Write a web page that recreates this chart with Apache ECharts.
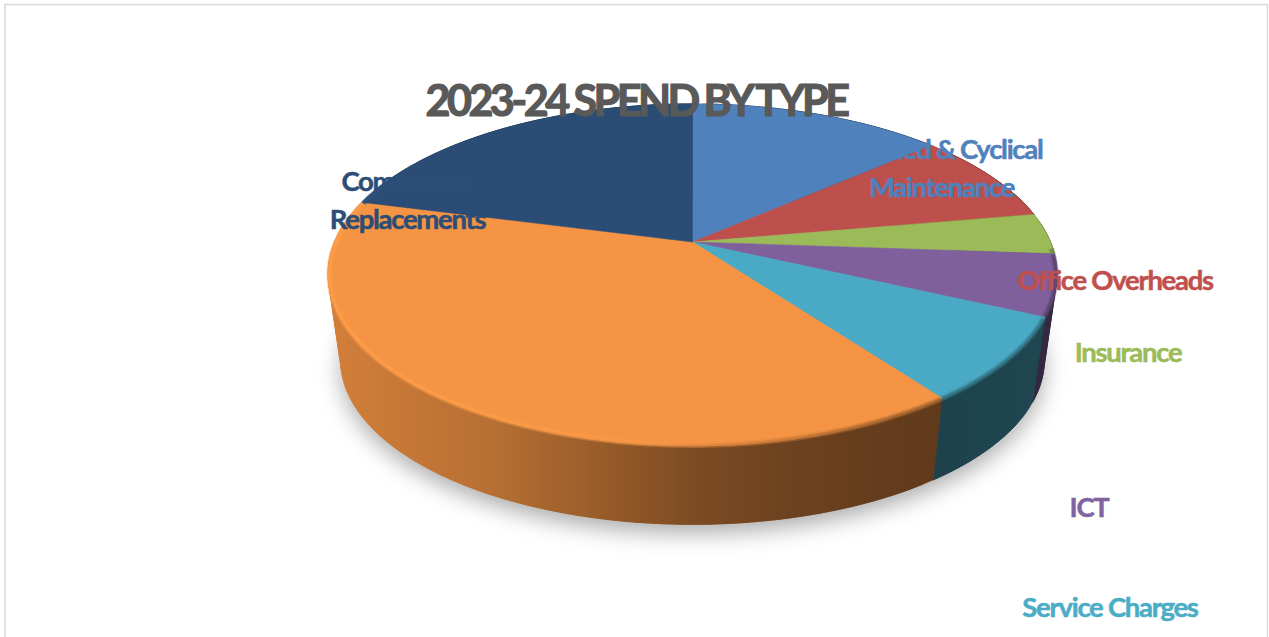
<!DOCTYPE html>
<html>
<head>
<meta charset="utf-8">
<style>
  html, body { margin: 0; padding: 0; background: #fff; }
  #chart { width: 1269px; height: 637px; overflow: hidden; }
  #chart text { letter-spacing: -0.047em; }
  #chart text[style*="43px"] { letter-spacing: -0.082em; }
</style>
<script src="https://cdn.jsdelivr.net/npm/echarts@6/dist/echarts.min.js"></script>
</head>
<body>
<div id="chart"></div>
<script>
// Spend categories, clockwise from twelve o'clock (share of total, %)
const chartTitle = '2023-24 SPEND BY TYPE';
const categories = ['Planned & Cyclical\nMaintenance', 'Office Overheads', 'Insurance', 'ICT', 'Service Charges', '', 'Component\nReplacements'];
const spend = [13.5, 8.7, 3.9, 5.8, 8.0, 39.1, 20.9];
const sliceColors = ['#4f81bd', '#bd4f4c', '#9bbb59', '#7f609c', '#4aa9c4', '#f59444', '#2b4d75'];
const labelColors = ['#4f81bd', '#c0504d', '#9bbb59', '#8064a2', '#4bacc6', '#f79646', '#2c4d75'];

// Centre of each category label on the page
const labelX = [941.5, 1115, 1128, 1089, 1110, 0, 407.5];
const labelY = [167, 279, 351, 506, 606, 0, 199];

// Perspective model of the tilted disc
const disc = { cx: 692.5, apexY: 242, radius: 358, depthScale: 164, tilt: 0.188, vanishY: 2740, baseScale: 0.965 };

const total = spend.reduce((a, b) => a + b, 0);
const cumulative = [];
spend.reduce((acc, v, i) => { cumulative[i] = acc; return acc + v; }, 0);

function rimPoint(deg, lower) {
  const t = deg * Math.PI / 180;
  const u = -Math.cos(t);
  const k = 1 / (1 - disc.tilt * u);
  let x = disc.cx + disc.radius * Math.sin(t) * k;
  let y = disc.apexY + disc.depthScale * u * k;
  if (lower) {
    x = disc.cx + disc.baseScale * (x - disc.cx);
    y = disc.vanishY + disc.baseScale * (y - disc.vanishY);
  }
  return [x, y];
}

function rimArc(from, to, lower) {
  const pts = [];
  const steps = Math.max(2, Math.ceil(to - from));
  for (let i = 0; i <= steps; i++) pts.push(rimPoint(from + (to - from) * i / steps, lower));
  return pts;
}

function sliceRange(i) {
  return [cumulative[i] / total * 360, (cumulative[i] + spend[i]) / total * 360];
}

function shade(hex, f) {
  const n = parseInt(hex.slice(1), 16);
  const c = [n >> 16, (n >> 8) & 255, n & 255].map(v => Math.min(255, Math.round(v * f)));
  return 'rgb(' + c.join(',') + ')';
}

function sweep(hex, stops) {
  const x0 = 328, x1 = 1057;
  return {
    type: 'linear', global: true, x: x0, y: 0, x2: x1, y2: 0,
    colorStops: stops.map(s => ({ offset: (s[0] - x0) / (x1 - x0), color: shade(hex, s[1]) }))
  };
}

const wallShades = [[328, 0.86], [500, 0.74], [700, 0.5], [800, 0.44], [940, 0.39], [1057, 0.42]];
const bevelShades = [[328, 1.06], [640, 1.06], [760, 0.92], [900, 0.72], [1057, 0.7]];

function renderShadow() {
  return {
    type: 'polygon',
    shape: { points: rimArc(0, 360, true) },
    style: { fill: '#bbb', shadowBlur: 22, shadowOffsetY: 9, shadowColor: 'rgba(0,0,0,0.32)' }
  };
}

// The wall is swept as overlapping quads so its outline follows the disc's silhouette
function renderWall(params) {
  const [a, b] = sliceRange(params.dataIndex);
  const top = rimArc(a, b, false);
  const low = rimArc(a, b, true);
  const hex = sliceColors[params.dataIndex];
  const fill = sweep(hex, wallShades);
  const children = [];
  for (let i = 0; i + 1 < top.length; i += 2) {
    const end = Math.min(i + 6, top.length - 1);
    const upper = top.slice(i, end + 1);
    const lower = low.slice(i, end + 1).reverse();
    children.push({
      type: 'polygon',
      shape: { points: upper.concat(lower) },
      style: { fill: fill, stroke: fill, lineWidth: 0.5 }
    });
  }
  return { type: 'group', children };
}

function renderFace(params) {
  const i = params.dataIndex;
  const [a, b] = sliceRange(i);
  const hex = sliceColors[i];
  const children = [{
    type: 'polygon',
    shape: { points: [[disc.cx, disc.apexY]].concat(rimArc(a, b, false)) },
    style: { fill: hex, stroke: hex, lineWidth: 0.5 }
  }];
  // Bevel along the front of the rim
  const from = Math.max(a, 92), to = Math.min(b, 292);
  if (to > from) {
    const arc = rimArc(from, to, false).map(p => [p[0] + (disc.cx - p[0]) * 0.004, p[1] + 1]);
    children.push({
      type: 'polyline', shape: { points: arc },
      style: { fill: null, stroke: sweep(hex, bevelShades), lineWidth: 6, opacity: 0.35 }
    }, {
      type: 'polyline', shape: { points: arc },
      style: { fill: null, stroke: sweep(hex, bevelShades), lineWidth: 3, opacity: 0.8 }
    });
  }
  return { type: 'group', children };
}

const labelFont = 'bold 27.5px Lato';
const labelGraphics = categories.map((name, i) => name ? {
  type: 'text', z: 20, x: labelX[i], y: labelY[i],
  style: { text: name, font: labelFont, fill: labelColors[i], stroke: labelColors[i], lineWidth: 0.5, align: 'center', verticalAlign: 'middle', lineHeight: 38 }
} : null).filter(Boolean);

const chart = echarts.init(document.getElementById('chart'), null, { renderer: 'svg' });
chart.setOption({
  animation: false,
  backgroundColor: '#ffffff',
  title: {
    text: chartTitle, left: 631, top: 73, textAlign: 'center', z: 10,
    textStyle: { fontFamily: 'Lato', fontWeight: 'bold', fontSize: 43, color: '#595959', textBorderColor: '#595959', textBorderWidth: 1.2 }
  },
  graphic: [{
    type: 'rect', z: 0, shape: { x: 5, y: 4.5, width: 1262.5, height: 700 },
    style: { fill: 'none', stroke: '#d9d9d9', lineWidth: 1.5 }
  }].concat(labelGraphics),
  series: [
    { type: 'custom', name: 'shadow', coordinateSystem: 'none', z: 1, silent: true, data: [0], renderItem: renderShadow },
    { type: 'custom', name: 'walls', coordinateSystem: 'none', z: 2, silent: true, data: spend, renderItem: renderWall },
    { type: 'custom', name: 'faces', coordinateSystem: 'none', z: 3, silent: true, data: spend, renderItem: renderFace }
  ]
});
</script>
</body>
</html>
